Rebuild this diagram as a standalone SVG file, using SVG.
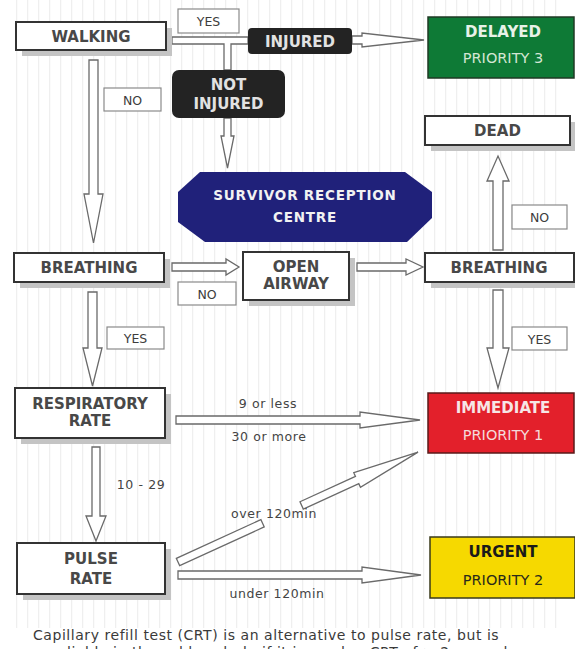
<svg xmlns="http://www.w3.org/2000/svg" width="575" height="649" viewBox="0 0 575 649">
  <defs>
    <pattern id="stripes" x="0" y="0" width="11" height="20" patternUnits="userSpaceOnUse">
      <rect x="0" y="0" width="11" height="20" fill="#ffffff"/>
      <rect x="5" y="0" width="1.2" height="20" fill="#efefef"/>
    </pattern>
  </defs>
  <style>
    .node { fill: #ffffff; stroke: #333333; stroke-width: 2; }
    .shadow { fill: #c4c4c4; }
    .tag { fill: #ffffff; stroke: #8a8a8a; stroke-width: 1.2; }
    .arrow { fill: #ffffff; stroke: #6a6a6a; stroke-width: 1.3; stroke-linejoin: miter; }
    text { font-family: "DejaVu Sans", Verdana, sans-serif; text-anchor: middle; }
    .nt { font-size: 15px; font-weight: bold; fill: #484848; }
    .dk { font-size: 15px; font-weight: bold; fill: #e2e2e2; }
    .tt { font-size: 12.5px; fill: #3c3c3c; }
    .et { font-size: 12.5px; fill: #444444; letter-spacing: 0.6px; }
    .pt { font-size: 15px; font-weight: bold; }
    .ps { font-size: 14.5px; }
    .cap { font-size: 14px; fill: #3a3a3a; text-anchor: start; letter-spacing: 0.55px; }
  </style>

  <!-- faint striped backdrop -->
  <rect x="0" y="0" width="575" height="649" fill="#ffffff"/>
  <rect x="10" y="0" width="556" height="628" fill="url(#stripes)"/>

  <!-- connectors -->
  <g id="connectors">
    <!-- walking: yes branch, splitting to injured / not injured -->
    <polygon class="arrow" points="172,37 248,37 248,44 231,44 231,70 224,70 224,44 172,44"/>
    <polygon class="arrow" points="224,118 231,118 231,136 234,136 227.5,168 221,136 224,136"/>
    <polygon class="arrow" points="352,36 362,36 362,33 424,40 362,47 362,44 352,44"/>
    <!-- walking: no -->
    <polygon class="arrow" points="89,60 98,60 98,194 103,194 93.5,243 84,194 89,194"/>
    <!-- breathing: no, open airway -->
    <polygon class="arrow" points="172,263 226,263 226,259 239,267 226,275 226,271 172,271"/>
    <polygon class="arrow" points="357,263 406,263 406,259 423,267 406,275 406,271 357,271"/>
    <!-- breathing after airway: no / yes -->
    <polygon class="arrow" points="493,250 493,181 487,181 498,156 509,181 503,181 503,250"/>
    <polygon class="arrow" points="493,290 503,290 503,348 509,348 498,388 487,348 493,348"/>
    <!-- breathing: yes -->
    <polygon class="arrow" points="88,292 97,292 97,348 102,348 92.5,386 83,348 88,348"/>
    <!-- respiratory rate outcomes -->
    <polygon class="arrow" points="176,416 360,416 360,412 420,420 360,428 360,424 176,424"/>
    <polygon class="arrow" points="92,447 100,447 100,516 106,516 96,541 86,516 92,516"/>
    <!-- pulse rate outcomes -->
    <g transform="translate(178,562) rotate(-24.6)">
      <polygon class="arrow" points="0,-4 93,-4 93,4 0,4"/>
      <polygon class="arrow" points="136,-4 197,-4 197,-8 264,0 197,8 197,4 136,4"/>
    </g>
    <polygon class="arrow" points="178,571 362,571 362,567 421,575 362,583 362,579 178,579"/>

    <!-- branch tags -->
    <rect class="tag" x="178" y="9" width="61" height="24"/>
    <text class="tt" x="208.5" y="26">YES</text>
    <rect class="tag" x="104" y="88" width="57" height="23"/>
    <text class="tt" x="132.5" y="104.5">NO</text>
    <rect class="tag" x="178" y="282" width="58" height="23"/>
    <text class="tt" x="207" y="298.5">NO</text>
    <rect class="tag" x="512" y="205" width="55" height="24"/>
    <text class="tt" x="539.5" y="221.5">NO</text>
    <rect class="tag" x="107" y="327" width="57" height="22"/>
    <text class="tt" x="135.5" y="343">YES</text>
    <rect class="tag" x="512" y="327" width="55" height="23"/>
    <text class="tt" x="539.5" y="343.5">YES</text>

    <!-- edge values -->
    <text class="et" x="268" y="408">9 or less</text>
    <text class="et" x="269" y="441">30 or more</text>
    <text class="et" x="141" y="489">10 - 29</text>
    <text class="et" x="274" y="518">over 120min</text>
    <text class="et" x="277" y="598">under 120min</text>
  </g>

  <!-- nodes -->
  <g id="walking">
    <rect class="shadow" x="22" y="28" width="150" height="28"/>
    <rect class="node" x="16" y="22" width="150" height="28"/>
    <text class="nt" x="91" y="42">WALKING</text>
  </g>

  <g id="injured">
    <rect x="248" y="28" width="104" height="26" rx="4" fill="#232323"/>
    <text class="dk" x="300" y="46.5">INJURED</text>
  </g>

  <g id="not-injured">
    <rect x="172" y="70" width="113" height="48" rx="7" fill="#232323"/>
    <text class="dk" x="228.5" y="90">NOT</text>
    <text class="dk" x="228.5" y="109">INJURED</text>
  </g>

  <g id="delayed">
    <rect x="428" y="17" width="146" height="61" fill="#0e7a36" stroke="#1f3a25" stroke-width="1.5"/>
    <text class="pt" x="503" y="37" fill="#e8f2e8">DELAYED</text>
    <text class="ps" x="503" y="63" fill="#d3e6d3">PRIORITY 3</text>
  </g>

  <g id="dead">
    <rect class="shadow" x="431" y="122" width="144" height="29"/>
    <rect class="node" x="425" y="116" width="145" height="29"/>
    <text class="nt" x="497.5" y="136">DEAD</text>
  </g>

  <g id="survivor-reception-centre">
    <polygon points="200,172 405,172 432,192 432,218 407,242 205,242 178,222 178,192" fill="#20217a"/>
    <text x="305" y="200" font-size="13.5" font-weight="bold" fill="#f2f2f2" letter-spacing="0.8">SURVIVOR RECEPTION</text>
    <text x="305" y="222" font-size="13.5" font-weight="bold" fill="#f2f2f2" letter-spacing="0.8">CENTRE</text>
  </g>

  <g id="breathing">
    <rect class="shadow" x="20" y="259" width="150" height="29"/>
    <rect class="node" x="14" y="253" width="150" height="29"/>
    <text class="nt" x="89" y="273">BREATHING</text>
  </g>

  <g id="open-airway">
    <rect class="shadow" x="249" y="258" width="106" height="48"/>
    <rect class="node" x="243" y="252" width="106" height="48"/>
    <text class="nt" x="296" y="272">OPEN</text>
    <text class="nt" x="296" y="289">AIRWAY</text>
  </g>

  <g id="breathing-after-airway">
    <rect class="shadow" x="431" y="259" width="144" height="29"/>
    <rect class="node" x="425" y="253" width="149" height="29"/>
    <text class="nt" x="499" y="273">BREATHING</text>
  </g>

  <g id="respiratory-rate">
    <rect class="shadow" x="21" y="394" width="150" height="50"/>
    <rect class="node" x="15" y="388" width="150" height="50"/>
    <text class="nt" x="90" y="409">RESPIRATORY</text>
    <text class="nt" x="90" y="426">RATE</text>
  </g>

  <g id="immediate">
    <rect x="428" y="393" width="146" height="60" fill="#e3202b" stroke="#5a1a1a" stroke-width="1.5"/>
    <text class="pt" x="503" y="413" fill="#f6e6e6">IMMEDIATE</text>
    <text class="ps" x="503" y="440" fill="#f4dada">PRIORITY 1</text>
  </g>

  <g id="pulse-rate">
    <rect class="shadow" x="23" y="549" width="148" height="51"/>
    <rect class="node" x="17" y="543" width="148" height="51"/>
    <text class="nt" x="91" y="564">PULSE</text>
    <text class="nt" x="91" y="584">RATE</text>
  </g>

  <g id="urgent">
    <rect x="430" y="537" width="145" height="61" fill="#f6d900" stroke="#3a3a1a" stroke-width="1.5"/>
    <text class="pt" x="503" y="557" fill="#1a1a1a">URGENT</text>
    <text class="ps" x="503" y="585" fill="#2a2a1a">PRIORITY 2</text>
  </g>

  <!-- footnote; its second line runs past the bottom edge -->
  <text class="cap" x="33" y="640">Capillary refill test (CRT) is an alternative to pulse rate, but is</text>
  <text class="cap" x="33" y="657">unreliable in the cold or dark; if it is used, a CRT of &gt; 2 seconds</text>
</svg>
